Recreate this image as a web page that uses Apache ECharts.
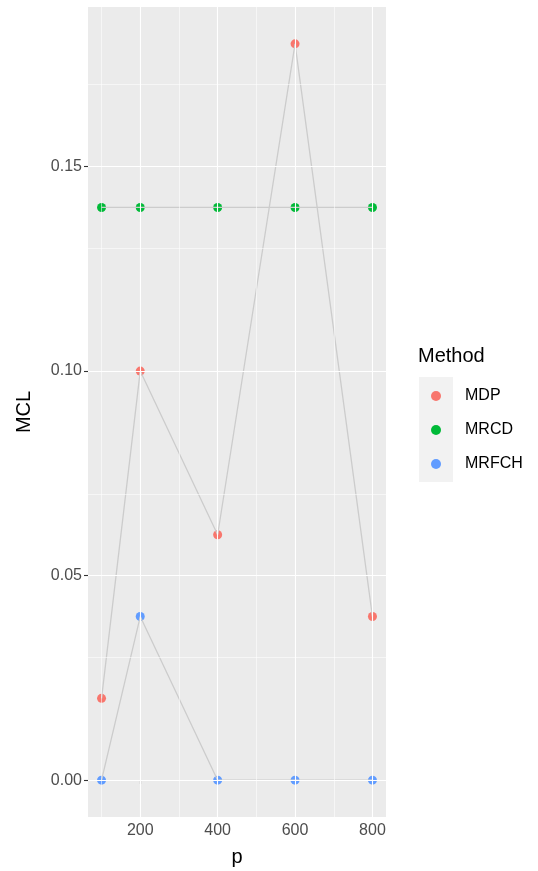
<!DOCTYPE html>
<html>
<head>
<meta charset="utf-8">
<script src="https://cdn.jsdelivr.net/npm/echarts@6/dist/echarts.min.js"></script>
<style>
  html, body { margin: 0; padding: 0; background: #fff; }
  #chart { width: 538px; height: 871px; }
</style>
</head>
<body>
<div id="chart"></div>
<script>
// data
const pValues = [100, 200, 400, 600, 800];
const mdp = [0.02, 0.10, 0.06, 0.18, 0.04];
const mrcd = [0.14, 0.14, 0.14, 0.14, 0.14];
const mrfch = [0.00, 0.04, 0.00, 0.00, 0.00];
const methods = ['MDP', 'MRCD', 'MRFCH'];
const colors = ['#F8766D', '#00BA38', '#619CFF'];
const xTicks = [200, 400, 600, 800];
const yTicks = [0, 0.05, 0.10, 0.15];
const xMinor = [100, 300, 500, 700];
const yMinor = [0.025, 0.075, 0.125, 0.175];

const font = 'Liberation Sans, Arial, Helvetica, sans-serif';
const allSeries = [mdp, mrcd, mrfch];

function pairs(vals) {
  return pValues.map((p, i) => [p, vals[i]]);
}

let myChart = echarts.init(document.getElementById('chart'));

// grid lines drawn as mark lines so they sit on the data values
const gridLines = [];
xTicks.forEach(v => gridLines.push({ xAxis: v, lineStyle: { width: 1.1 } }));
xMinor.forEach(v => gridLines.push({ xAxis: v, lineStyle: { width: 0.55 } }));
yTicks.forEach(v => gridLines.push({ yAxis: v, lineStyle: { width: 1.1 } }));
yMinor.forEach(v => gridLines.push({ yAxis: v, lineStyle: { width: 0.55 } }));

const series = [{
  type: 'line',
  name: 'grid',
  data: [],
  silent: true,
  z: 1,
  markLine: {
    silent: true,
    symbol: 'none',
    label: { show: false },
    lineStyle: { color: '#ffffff', type: 'solid' },
    data: gridLines
  }
}];

allSeries.forEach((vals, i) => {
  series.push({
    type: 'scatter',
    name: methods[i],
    data: pairs(vals),
    symbol: 'circle',
    symbolSize: 9,
    itemStyle: { color: colors[i], opacity: 1 },
    z: 3
  });
  series.push({
    type: 'line',
    name: methods[i] + '_line',
    data: pairs(vals),
    showSymbol: false,
    symbol: 'none',
    lineStyle: { color: '#cccccc', width: 1.3 },
    silent: true,
    z: 4
  });
});

myChart.setOption({
  backgroundColor: '#ffffff',
  animation: false,
  textStyle: { fontFamily: font },
  title: {
    text: 'Method',
    left: 418,
    top: 346,
    padding: 0,
    textStyle: { fontFamily: font, fontSize: 20, fontWeight: 'normal', color: '#000' }
  },
  legend: {
    data: methods,
    orient: 'vertical',
    left: 431,
    top: 386,
    padding: 0,
    icon: 'circle',
    itemWidth: 10,
    itemHeight: 10,
    itemGap: 14,
    textStyle: { fontFamily: font, fontSize: 16, color: '#000', lineHeight: 20, padding: [0, 0, 0, 19] },
    selectedMode: false
  },
  graphic: [{
    type: 'rect',
    shape: { x: 419, y: 377, width: 34, height: 105 },
    style: { fill: '#F2F2F2' },
    z: -1
  }],
  grid: {
    left: 88,
    top: 7,
    right: 152,
    bottom: 54,
    outerBoundsMode: 'none',
    containLabel: false,
    show: true,
    backgroundColor: '#EBEBEB',
    borderWidth: 0
  },
  xAxis: {
    type: 'value',
    min: 65,
    max: 835,
    name: 'p',
    nameLocation: 'middle',
    nameGap: 30,
    nameTextStyle: { fontFamily: font, fontSize: 20, color: '#000' },
    axisLine: { show: false },
    splitLine: { show: false },
    axisTick: { show: true, customValues: xTicks, length: 4, lineStyle: { color: '#333333', width: 1.1 } },
    axisLabel: { customValues: xTicks, color: '#4D4D4D', fontSize: 16, fontFamily: font, margin: 6 }
  },
  yAxis: {
    type: 'value',
    min: -0.009,
    max: 0.189,
    name: 'MCL',
    nameLocation: 'middle',
    nameGap: 54,
    nameRotate: 90,
    nameTextStyle: { fontFamily: font, fontSize: 20, color: '#000' },
    axisLine: { show: false },
    splitLine: { show: false },
    axisTick: { show: true, customValues: yTicks, length: 4, lineStyle: { color: '#333333', width: 1.1 } },
    axisLabel: {
      customValues: yTicks,
      color: '#4D4D4D',
      fontSize: 16,
      fontFamily: font,
      margin: 6,
      formatter: v => v.toFixed(2)
    }
  },
  series: series
});
</script>
</body>
</html>
